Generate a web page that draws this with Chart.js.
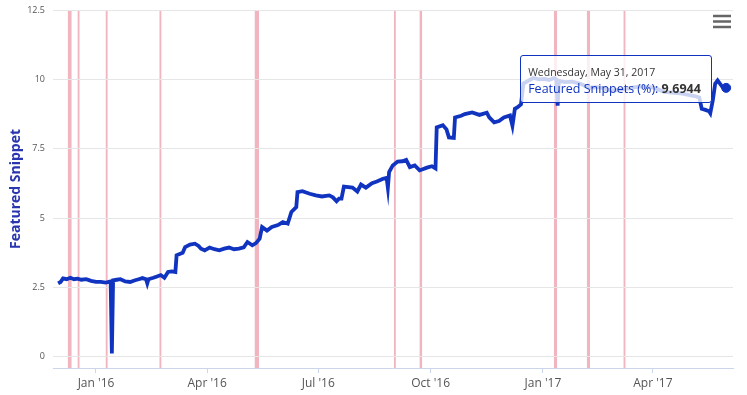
<!DOCTYPE html>
<html>
<head>
<meta charset="utf-8">
<script src="https://cdn.jsdelivr.net/npm/chart.js@4.4.0/dist/chart.umd.min.js"></script>
<style>
  html, body { margin: 0; padding: 0; background: #fff; }
  #wrap { position: relative; width: 747px; height: 395px; }
  #tip {
    position: absolute; display: none; white-space: nowrap;
    background: rgba(255,255,255,0.78); border: 1px solid #1034c0; border-radius: 3px;
    padding: 8px 10px 5px 7px; font-family: "Open Sans", sans-serif; color: #333;
  }
  #tip .t { font-size: 10.5px; line-height: 16px; }
  #tip .b { font-size: 12.5px; line-height: 17px; }
</style>
</head>
<body>
<div id="wrap">
  <canvas id="chart" width="747" height="395"></canvas>
  <div id="tip"></div>
</div>
<script>
const seriesName = "Featured Snippets (%)";
const dates = [
  "2015-12-01","2015-12-03","2015-12-05","2015-12-08","2015-12-11","2015-12-14","2015-12-17","2015-12-20","2015-12-24","2015-12-28",
  "2016-01-01","2016-01-05","2016-01-09","2016-01-13","2016-01-14","2016-01-15","2016-01-18","2016-01-21","2016-01-25","2016-01-29",
  "2016-02-02","2016-02-05","2016-02-08","2016-02-11","2016-02-12","2016-02-13","2016-02-17","2016-02-20","2016-02-23","2016-02-26",
  "2016-02-29","2016-03-03","2016-03-06","2016-03-07","2016-03-10","2016-03-12","2016-03-14","2016-03-18","2016-03-22","2016-03-25",
  "2016-03-27","2016-03-30","2016-04-03","2016-04-07","2016-04-11","2016-04-15","2016-04-19","2016-04-23","2016-04-27","2016-05-01",
  "2016-05-04","2016-05-08","2016-05-11","2016-05-14","2016-05-16","2016-05-20","2016-05-24","2016-05-29","2016-06-02","2016-06-06",
  "2016-06-09","2016-06-13","2016-06-14","2016-06-18","2016-06-24","2016-06-29","2016-07-04","2016-07-10","2016-07-13","2016-07-16",
  "2016-07-18","2016-07-20","2016-07-22","2016-07-29","2016-08-02","2016-08-05","2016-08-09","2016-08-14","2016-08-18","2016-08-23",
  "2016-08-26","2016-08-27","2016-08-28","2016-08-31","2016-09-04","2016-09-08","2016-09-11","2016-09-14","2016-09-18","2016-09-22",
  "2016-09-28","2016-10-02","2016-10-05","2016-10-06","2016-10-11","2016-10-14","2016-10-16","2016-10-20","2016-10-21","2016-10-26",
  "2016-10-29","2016-11-04","2016-11-10","2016-11-16","2016-11-18","2016-11-22","2016-11-26","2016-11-30","2016-12-05","2016-12-07",
  "2016-12-09","2016-12-11","2016-12-14","2016-12-16","2016-12-20","2016-12-24","2016-12-29","2017-01-02","2017-01-06","2017-01-10",
  "2017-01-12","2017-01-13","2017-01-14","2017-01-19","2017-01-25","2017-01-31","2017-02-08","2017-02-16","2017-02-26","2017-03-09",
  "2017-03-21","2017-04-02","2017-04-10","2017-04-23","2017-05-05","2017-05-09","2017-05-11","2017-05-14","2017-05-17","2017-05-18",
  "2017-05-20","2017-05-22","2017-05-24","2017-05-28","2017-05-31"
];
const snippets = [
  2.65, 2.7, 2.83, 2.8, 2.85, 2.8, 2.82, 2.78, 2.8, 2.74,
  2.7, 2.7, 2.68, 2.72, 0.12, 2.76, 2.78, 2.8, 2.72, 2.7,
  2.76, 2.8, 2.84, 2.8, 2.65, 2.8, 2.85, 2.9, 2.95, 2.85,
  3.06, 3.08, 3.06, 3.66, 3.72, 3.75, 3.96, 4.05, 4.08, 4.0,
  3.9, 3.84, 3.94, 3.88, 3.84, 3.9, 3.94, 3.88, 3.9, 3.95,
  4.14, 4.02, 4.1, 4.26, 4.68, 4.55, 4.68, 4.75, 4.86, 4.8,
  5.22, 5.4, 5.94, 5.97, 5.88, 5.82, 5.78, 5.82, 5.75, 5.61,
  5.7, 5.7, 6.14, 6.1, 5.96, 6.21, 6.1, 6.26, 6.32, 6.42,
  6.45, 6.1, 6.66, 6.9, 7.04, 7.05, 7.1, 6.84, 6.9, 6.72,
  6.82, 6.87, 6.79, 8.27, 8.35, 8.2, 7.91, 7.89, 8.63, 8.69,
  8.75, 8.81, 8.72, 8.8, 8.63, 8.45, 8.5, 8.63, 8.7, 8.33,
  8.94, 8.99, 9.1, 9.85, 9.95, 10.05, 10.0, 10.02, 9.98, 10.05,
  10.0, 9.05, 9.95, 9.9, 9.92, 9.85, 9.7, 9.72, 9.6, 9.65,
  9.75, 9.7, 9.55, 9.5, 9.4, 9.35, 8.94, 8.9, 8.85, 8.78,
  9.23, 9.84, 9.96, 9.72, 9.6944
];
// update bands (start / end)
const bandStarts = ["2015-12-09","2015-12-17","2016-01-09","2016-02-22","2016-05-10","2016-09-01","2016-09-22","2017-01-10","2017-02-06","2017-03-08"];
const bandEnds   = ["2015-12-12","2015-12-18.5","2016-01-10.5","2016-02-23.5","2016-05-13.5","2016-09-02.5","2016-09-24","2017-01-12.5","2017-02-08.5","2017-03-09.5"];
const tickDates  = ["2016-01-01","2016-04-01","2016-07-01","2016-10-01","2017-01-01","2017-04-01"];
const tickLabels = ["Jan '16","Apr '16","Jul '16","Oct '16","Jan '17","Apr '17"];
const yTicks = [0, 2.5, 5, 7.5, 10, 12.5];

const lineColor = "#1034c0";
const origin = Date.parse("2016-01-01");
function day(s) {
  const parts = s.split(".");
  const frac = parts.length > 1 ? Number("0." + parts[1]) : 0;
  return (Date.parse(parts[0]) - origin) / 864e5 + frac;
}

const bandsPlugin = {
  id: "bands",
  beforeDraw(chart) {
    const {ctx, chartArea, scales: {x}} = chart;
    ctx.save();
    ctx.fillStyle = "rgba(225, 90, 115, 0.45)";
    bandStarts.forEach((s, i) => {
      const x1 = x.getPixelForValue(day(s));
      const x2 = x.getPixelForValue(day(bandEnds[i]));
      ctx.fillRect(x1, chartArea.top, Math.max(x2 - x1, 1.5), chartArea.bottom - chartArea.top);
    });
    ctx.restore();
  }
};

const menuPlugin = {
  id: "menu",
  afterDraw(chart) {
    const ctx = chart.ctx;
    ctx.save();
    ctx.strokeStyle = "#666";
    ctx.lineWidth = 2.5;
    [16, 21.5, 27].forEach(y => {
      ctx.beginPath();
      ctx.moveTo(713, y);
      ctx.lineTo(731, y);
      ctx.stroke();
    });
    ctx.restore();
  }
};

function longDate(s) {
  return new Date(Date.parse(s)).toLocaleDateString("en-US", {
    weekday: "long", month: "long", day: "numeric", year: "numeric", timeZone: "UTC"
  });
}

const chart = new Chart(document.getElementById("chart"), {
  type: "line",
  data: {
    datasets: [{
      label: seriesName,
      data: dates.map((d, i) => ({x: day(d), y: snippets[i]})),
      borderColor: lineColor,
      backgroundColor: lineColor,
      borderWidth: 3.8,
      pointRadius: 0,
      pointHoverRadius: 4.5,
      pointHoverBorderWidth: 1,
      pointHoverBackgroundColor: lineColor,
      pointHoverBorderColor: lineColor,
      tension: 0
    }]
  },
  options: {
    responsive: false,
    animation: false,
    events: [],
    layout: {padding: {top: 10, right: 14, left: 0, bottom: 0}},
    plugins: {
      legend: {display: false},
      tooltip: {
        enabled: false,
        external: ({tooltip}) => {
          const el = document.getElementById("tip");
          if (!tooltip.dataPoints || !tooltip.dataPoints.length) { el.style.display = "none"; return; }
          const i = tooltip.dataPoints[0].dataIndex;
          el.innerHTML = '<div class="t">' + longDate(dates[i]) + '</div>' +
            '<div class="b"><span style="color:' + lineColor + '">' + seriesName + ': </span><b>' + snippets[i] + '</b></div>';
          el.style.display = "block";
          el.style.left = (tooltip.caretX - el.offsetWidth - 14) + "px";
          el.style.top = (tooltip.caretY - 33) + "px";
        }
      }
    },
    scales: {
      x: {
        type: "linear",
        min: -35.2,
        max: 521.6,
        afterBuildTicks: s => { s.ticks = tickDates.map(d => ({value: day(d)})); },
        afterFit: s => { s.height = 27; },
        grid: {drawOnChartArea: false, drawTicks: true, tickLength: 5, color: "#ccd6eb"},
        border: {color: "#ccd6eb"},
        ticks: {
          padding: 3,
          maxRotation: 0,
          color: "#555",
          font: {family: "Open Sans", size: 12},
          callback: (v, i) => tickLabels[i]
        }
      },
      y: {
        min: -0.4,
        max: 12.5,
        afterBuildTicks: s => { s.ticks = yTicks.map(v => ({value: v})); },
        afterFit: s => { s.width = 53; s.paddingTop = 0; s.paddingBottom = 0; },
        grid: {color: "#e6e6e6", drawTicks: false},
        border: {display: false},
        ticks: {
          padding: 8,
          color: "#555",
          font: {family: "Open Sans", size: 9},
          callback: v => v
        },
        title: {
          display: true,
          text: "Featured Snippet",
          color: "#2a35b0",
          padding: {top: 8, bottom: 0},
          font: {family: "Open Sans", size: 14, weight: "bold"}
        }
      }
    }
  },
  plugins: [bandsPlugin, menuPlugin]
});

const last = snippets.length - 1;
const pt = chart.getDatasetMeta(0).data[last];
chart.setActiveElements([{datasetIndex: 0, index: last}]);
chart.tooltip.setActiveElements([{datasetIndex: 0, index: last}], {x: pt.x, y: pt.y});
chart.update("none");
</script>
</body>
</html>
